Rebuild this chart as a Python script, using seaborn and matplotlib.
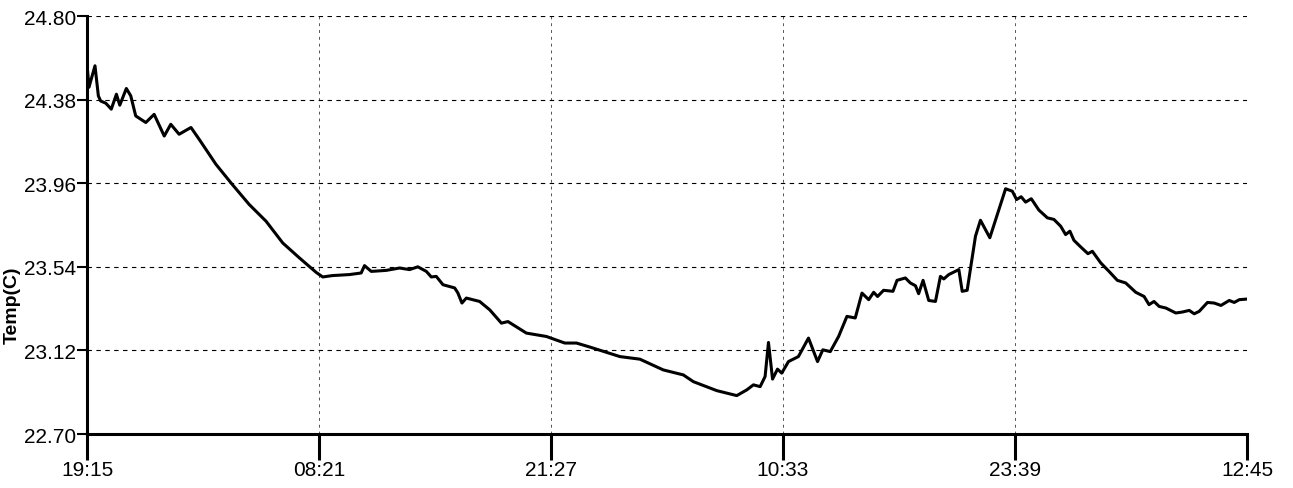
import pandas as pd
import matplotlib.pyplot as plt
import matplotlib.dates as mdates
import seaborn as sns

# Dados: horas decorridas desde 19:15 e temperatura (C)
horas = [0.0, 0.11, 0.27, 0.45, 0.64, 0.77, 1.06, 1.37, 1.66, 1.85, 2.22, 2.47, 2.75, 3.32,
         3.79, 4.36, 4.73, 5.20, 5.87, 6.33, 7.28, 8.20, 9.16, 10.11, 11.05, 11.99, 12.94,
         13.31, 13.86, 14.82, 15.48, 15.67, 16.05, 16.89, 17.65, 18.21, 18.68, 19.16, 19.44,
         19.72, 20.10, 20.76, 20.94, 21.17, 21.42, 22.17, 22.74, 23.40, 23.77, 24.81, 25.94,
         26.98, 27.64, 28.39, 30.09, 31.22, 32.54, 33.67, 34.24, 35.56, 36.69, 37.26, 37.63,
         38.01, 38.29, 38.48, 38.71, 38.99, 39.23, 39.61, 40.17, 40.74, 41.25, 41.55, 41.97,
         42.44, 42.91, 43.38, 43.76, 44.14, 44.42, 44.64, 44.98, 45.51, 45.74, 46.21, 46.49,
         46.78, 46.96, 47.21, 47.53, 47.91, 48.19, 48.38, 48.66, 49.23, 49.42, 49.70, 50.17,
         50.45, 50.98, 51.87, 52.25, 52.49, 52.75, 53.00, 53.32, 53.75, 54.23, 54.60, 54.98,
         55.26, 55.50, 55.73, 56.11, 56.52, 56.77, 57.24, 57.71, 58.18, 58.65, 59.22, 59.69,
         59.97, 60.25, 60.54, 60.92, 61.48, 61.86, 62.24, 62.52, 62.80, 63.27, 63.65, 64.03,
         64.50, 64.78, 65.07, 65.50]
temperatura = [24.558, 24.442, 24.493, 24.550, 24.399, 24.373, 24.362, 24.332, 24.407, 24.352,
               24.436, 24.399, 24.298, 24.265, 24.306, 24.197, 24.256, 24.206, 24.240, 24.181,
               24.055, 23.954, 23.853, 23.769, 23.660, 23.585, 23.512, 23.489, 23.496, 23.501,
               23.509, 23.546, 23.517, 23.522, 23.534, 23.526, 23.540, 23.517, 23.489, 23.492,
               23.450, 23.434, 23.409, 23.358, 23.383, 23.366, 23.324, 23.257, 23.265, 23.207,
               23.190, 23.157, 23.157, 23.137, 23.089, 23.076, 23.022, 22.997, 22.963, 22.918,
               22.893, 22.922, 22.947, 22.938, 22.989, 23.160, 22.976, 23.026, 23.006, 23.064,
               23.089, 23.182, 23.064, 23.123, 23.114, 23.190, 23.291, 23.283, 23.408, 23.375,
               23.412, 23.391, 23.422, 23.417, 23.472, 23.484, 23.459, 23.445, 23.405, 23.472,
               23.371, 23.366, 23.492, 23.479, 23.501, 23.526, 23.417, 23.422, 23.694, 23.774,
               23.686, 23.932, 23.920, 23.878, 23.892, 23.865, 23.882, 23.825, 23.786, 23.778,
               23.744, 23.702, 23.719, 23.673, 23.640, 23.606, 23.618, 23.560, 23.517, 23.472,
               23.459, 23.412, 23.391, 23.350, 23.366, 23.341, 23.333, 23.308, 23.313, 23.321,
               23.304, 23.316, 23.361, 23.358, 23.346, 23.371, 23.361, 23.375, 23.378]

inicio = pd.Timestamp("2000-01-01 19:15")
y_ticks = [22.70, 23.12, 23.54, 23.96, 24.38, 24.80]

df = pd.DataFrame({
    "tempo": inicio + pd.to_timedelta(horas, unit="h"),
    "temp": temperatura,
})
x_ticks = pd.date_range(inicio, periods=6, freq="786min")

sns.set_style("white")
plt.rcParams['font.family'] = ['Liberation Sans', 'DejaVu Sans']

fig = plt.figure(figsize=(12.93, 4.89), dpi=100)
ax = fig.add_axes([0.0673, 0.1104, 0.8971, 0.8548])

sns.lineplot(data=df, x="tempo", y="temp", color="black", linewidth=2.2, ax=ax)

ax.set_xlim(x_ticks[0], x_ticks[-1])
ax.set_ylim(y_ticks[0], y_ticks[-1])
ax.set_xticks(x_ticks)
ax.xaxis.set_major_formatter(mdates.DateFormatter("%H:%M"))
ax.set_yticks(y_ticks)
ax.set_yticklabels([f"{v:.2f}" for v in y_ticks])

ax.grid(True, axis="y", color="black", linestyle=(0, (4, 4)), linewidth=0.8)
ax.grid(True, axis="x", color="#555555", linestyle=(0, (3, 4)), linewidth=0.7)

for lado in ["top", "right"]:
    ax.spines[lado].set_visible(False)
for lado in ["left", "bottom"]:
    ax.spines[lado].set_linewidth(2.2)
    ax.spines[lado].set_color("black")

ax.tick_params(axis="x", bottom=True, direction="out", length=19, width=2.2,
               labelsize=15, pad=0, colors="black")
ax.tick_params(axis="y", left=True, direction="out", length=7, width=1.5,
               labelsize=15, pad=1, colors="black")

ax.set_xlabel("")
# rótulo ao lado dos números do eixo y, sem sobrepor
ax.set_ylabel("Temp(C)", fontsize=14, fontweight="bold", color="black")
ax.yaxis.set_label_coords(-0.0575, 0.31)

fig.savefig("out.png", dpi=100)
